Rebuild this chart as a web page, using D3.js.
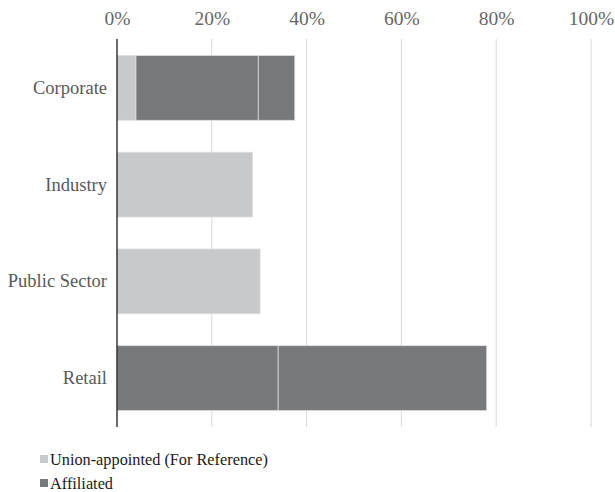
<!DOCTYPE html>
<html><head><meta charset="utf-8">
<script src="https://cdn.jsdelivr.net/npm/d3@7"></script>
<style>body{margin:0;background:#fff}svg{display:block}</style>
</head><body><div id="chart"></div>
<script>
const categories = ["Corporate", "Industry", "Public Sector", "Retail"];
const seriesNames = ["Union-appointed (For Reference)", "Affiliated"];
const seriesColors = ["#c8c9cb", "#77787b"];
// stacked segments per category (fractions), each segment tagged with its series index
const unionAppointed = [0.04, 0.286, 0.302, 0];
const affiliatedPart1 = [0.258, 0, 0, 0.34];
const affiliatedPart2 = [0.077, 0, 0, 0.44];
const tickValues = [0, 0.2, 0.4, 0.6, 0.8, 1.0];

const W = 615, H = 492;
const svg = d3.select("#chart").append("svg").attr("width", W).attr("height", H);
const x = d3.scaleLinear().domain([0, 1]).range([117, 591]);
const y = d3.scaleBand().domain(categories).range([39, 427]).paddingInner(0.33).paddingOuter(0.17);

// gridlines
svg.append("g").selectAll("line").data(tickValues.slice(1)).join("line")
  .attr("x1", d => x(d)).attr("x2", d => x(d)).attr("y1", 39).attr("y2", 427)
  .attr("stroke", "#d9d9d9").attr("stroke-width", 1);

// top axis labels
const ax = svg.append("g").attr("transform", "translate(0,25)")
  .call(d3.axisTop(x).tickValues(tickValues).tickFormat(d3.format(".0%")).tickSize(0).tickPadding(0));
ax.attr("font-family", null).attr("font-size", null);
ax.select(".domain").remove();
ax.selectAll("text").attr("dy", 0).attr("fill", null)
  .attr("style", "font-family:'Liberation Serif';font-size:19.5px;fill:#666666");

// build segments
const segs = [];
categories.forEach((c, i) => {
  let acc = 0;
  [[unionAppointed[i], 0], [affiliatedPart1[i], 1], [affiliatedPart2[i], 1]].forEach(([v, s]) => {
    if (v > 0) { segs.push({ c, x0: acc, x1: acc + v, s }); acc += v; }
  });
});
svg.append("g").selectAll("rect").data(segs).join("rect")
  .attr("x", d => x(d.x0)).attr("width", d => x(d.x1) - x(d.x0))
  .attr("y", d => y(d.c)).attr("height", y.bandwidth())
  .attr("fill", d => seriesColors[d.s]).attr("stroke", "#e0e0e0").attr("stroke-width", 0.75);

// y axis
const ay = svg.append("g").attr("transform", `translate(${x(0)},0)`)
  .call(d3.axisLeft(y).tickSize(0).tickPadding(10));
ay.attr("font-family", null).attr("font-size", null);
ay.select(".domain").remove();
ay.selectAll("text").attr("fill", null)
  .attr("style", "font-family:'Liberation Serif';font-size:18.5px;fill:#595959");
svg.append("line").attr("x1", x(0)).attr("x2", x(0)).attr("y1", 39).attr("y2", 427)
  .attr("stroke", "#1a1a1a").attr("stroke-width", 1.3);

// legend
const lg = svg.append("g").selectAll("g").data(seriesNames).join("g")
  .attr("transform", (d, i) => `translate(40,${465 + i * 24})`);
lg.append("rect").attr("x", 0).attr("y", -10).attr("width", 8).attr("height", 8).attr("fill", (d, i) => seriesColors[i]);
lg.append("text").attr("x", 10).attr("y", 0)
  .attr("style", "font-family:'Liberation Serif';font-size:16.3px;fill:#1a1a1a").text(d => d);
</script></body></html>
